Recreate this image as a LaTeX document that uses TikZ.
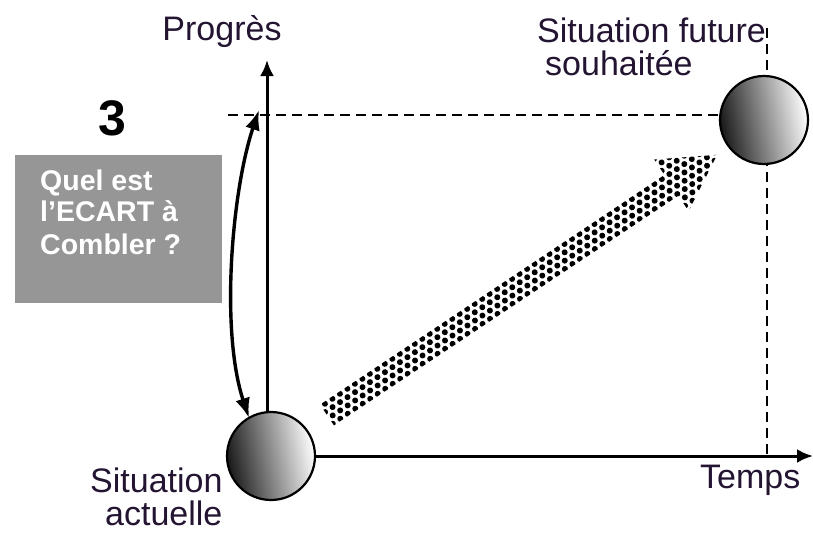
\documentclass[tikz,border=0pt]{standalone}
\usepackage{fontspec}
\setmainfont{Liberation Sans}
\usetikzlibrary{arrows.meta}
\definecolor{txt}{RGB}{35,20,50}
\definecolor{boxgray}{RGB}{150,150,150}
\tikzset{
  lbl/.style={font=\fontsize{34}{40}\selectfont, text=txt, inner sep=0pt},
  boxtxt/.style={font=\fontsize{28.5}{33}\selectfont\bfseries, text=white, inner sep=0pt, align=left},
  axisline/.style={line width=3pt, -{Latex[length=16pt,width=14pt]}},
  dashline/.style={line width=2pt, dash pattern=on 10pt off 6pt},
  ecart/.style={line width=3.4pt, {Latex[length=20pt,width=15pt]}-{Latex[length=20pt,width=15pt]}},
  ballshade/.style={left color=black!90, right color=white, middle color=black!45, shading angle=100},
}
\begin{document}
\begin{tikzpicture}[x=1pt,y=-1pt]
\useasboundingbox (0,0) rectangle (813,533);
% coordinates
\coordinate (c1) at (271,456);
\coordinate (c2) at (764,120);
\coordinate (ytop) at (267,60);
\coordinate (ybot) at (267,456);
\coordinate (xend) at (813,456);
\coordinate (dh1) at (228,115);
\coordinate (dh2) at (722,115);
\coordinate (dv1) at (767,28);
\coordinate (dv2) at (767,454);
% dashed guides
\draw[dashline] (dh1) -- (dh2);
\draw[dashline] (dv1) -- (dv2);
% axes
\draw[axisline] (ybot) -- (ytop);
\draw[axisline] (c1) -- (xend);
% gap arrow
\coordinate (ea) at (249,418);
\coordinate (eb) at (259,110);
\draw[ecart] (ea) .. controls (220,330) and (232,190) .. (eb);
% box
\node[fill=boxgray, minimum width=207pt, minimum height=148pt, inner sep=0pt, anchor=north west] (box) at (15,155) {};
\node[boxtxt, anchor=base west] (q1) at (40,190) {Quel est};
\node[boxtxt, anchor=base west] (q2) at (40,221) {l{\char"0027}ECART à};
\node[boxtxt, anchor=base west] (q3) at (40,254) {Combler ?};
\node[font=\fontsize{50}{56}\selectfont\bfseries, inner sep=0pt, anchor=base] (three) at (112,135) {3};
% dotted arrow
\begin{scope}[shift={(327,415)}, rotate=33.7]
  \clip (0,-12.5) -- (414,-12.5) -- (414,-31) -- (469,0) -- (414,31) -- (414,12.5) -- (0,12.5) -- cycle;
  \foreach \j in {0,...,9} {
    \pgfmathsetmacro\yy{-31.5+7*\j}
    \pgfmathsetmacro\off{mod(\j,2)*4.5}
    \foreach \i in {-1,...,54} {
      \fill (\i*9+\off,\yy) circle (3);
    }
  }
\end{scope}
% balls
\shade[ballshade] (c1) circle (44);
\draw[line width=2.2pt] (c1) circle (44);
\shade[ballshade] (c2) circle (44);
\draw[line width=2.2pt] (c2) circle (44);
% labels
\node[lbl, anchor=base] (prog) at (222,40) {Progrès};
\node[lbl, anchor=base west] (sf1) at (537,42) {Situation future};
\node[lbl, anchor=base west] (sf2) at (545,75) {souhaitée};
\node[lbl, anchor=base west] (sa1) at (90,492) {Situation};
\node[lbl, anchor=base west] (sa2) at (105,525) {actuelle};
\node[lbl, anchor=base west] (temps) at (700,488) {Temps};
\end{tikzpicture}
\end{document}
